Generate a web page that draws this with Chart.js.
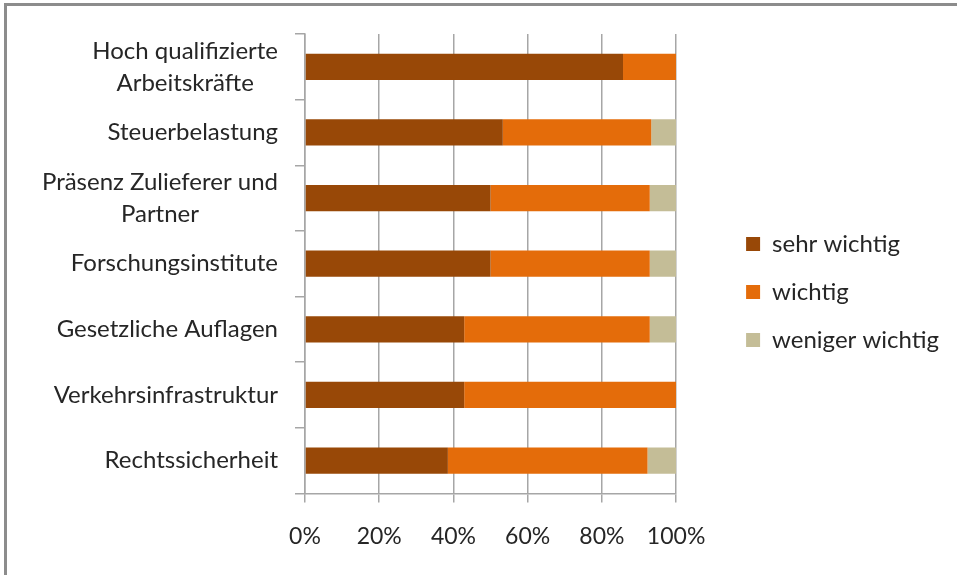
<!DOCTYPE html>
<html>
<head>
<meta charset="utf-8">
<script src="https://cdn.jsdelivr.net/npm/chart.js@4.4.1/dist/chart.umd.min.js"></script>
<style>
  html, body { margin: 0; padding: 0; background: #ffffff; }
  #wrap { position: relative; width: 957px; height: 575px; overflow: hidden; }
  #frame { position: absolute; left: 4px; top: 3px; right: -10px; bottom: -10px;
           border-left: 3px solid #8c8c8c; border-top: 3px solid #8c8c8c; pointer-events: none; }
  canvas { position: absolute; left: 0; top: 0; }
</style>
</head>
<body>
<div id="wrap">
  <canvas id="c" width="957" height="575"></canvas>
  <div id="frame"></div>
</div>
<script>
// ---- data ----
const categories = [
  ["Hoch qualifizierte", "Arbeitskräfte"],
  "Steuerbelastung",
  ["Präsenz Zulieferer und", "Partner"],
  "Forschungsinstitute",
  "Gesetzliche Auflagen",
  "Verkehrsinfrastruktur",
  "Rechtssicherheit"
];
const seriesNames = ["sehr wichtig", "wichtig", "weniger wichtig"];
const sehrWichtig    = [85.7, 53.3, 50.0, 50.0, 42.9, 42.9, 38.5];
const wichtig        = [14.3, 40.0, 42.9, 42.9, 50.0, 57.1, 53.8];
const wenigerWichtig = [0.0,  6.7,  7.1,  7.1,  7.1,  0.0,  7.7];
const xTickValues = [0, 20, 40, 60, 80, 100];

// ---- styles ----
const COLORS = ["#984807", "#E46C0A", "#C4BD97"];
const FONT = "Lato";
const LABEL_SIZE = 24;
const TICK_SIZE = 23;
const TEXT = "#262626";
const GRID = "#a6a6a6";

const yLabelPlugin = {
  id: 'yLabels',
  afterDraw(chart) {
    const ys = chart.scales.y;
    const ctx = chart.ctx;
    ctx.save();
    ctx.font = LABEL_SIZE + "px " + FONT;
    ctx.fillStyle = TEXT;
    ctx.textAlign = "center";
    ctx.textBaseline = "middle";
    const rightEdge = ys.right - 27;
    const lineH = 32;
    categories.forEach((lab, i) => {
      const lines = Array.isArray(lab) ? lab : [lab];
      const w = Math.max(...lines.map(l => ctx.measureText(l).width));
      const cx = rightEdge - w / 2;
      const cy = ys.getPixelForValue(i);
      lines.forEach((l, k) => ctx.fillText(l, cx, cy + (k - (lines.length - 1) / 2) * lineH));
    });
    ctx.restore();
  }
};

new Chart(document.getElementById("c"), {
  type: "bar",
  data: {
    labels: categories,
    datasets: [
      { label: seriesNames[0], data: sehrWichtig, backgroundColor: COLORS[0], borderWidth: 0 },
      { label: seriesNames[1], data: wichtig, backgroundColor: COLORS[1], borderWidth: 0 },
      { label: seriesNames[2], data: wenigerWichtig, backgroundColor: COLORS[2], borderWidth: 0 }
    ]
  },
  options: {
    indexAxis: "y",
    responsive: false,
    animation: false,
    devicePixelRatio: 1,
    datasets: { bar: { categoryPercentage: 0.8, barPercentage: 0.5 } },
    layout: { padding: { left: 0, top: 14, bottom: 5, right: 8 } },
    plugins: {
      tooltip: { enabled: false },
      legend: {
        position: "right",
        labels: {
          boxWidth: 14, boxHeight: 14, padding: 24,
          color: TEXT,
          font: { family: FONT, size: LABEL_SIZE }
        }
      }
    },
    scales: {
      x: {
        stacked: true,
        min: 0, max: 100,
        afterBuildTicks(s) { s.ticks = xTickValues.map(v => ({ value: v })); },
        grid: { color: GRID, lineWidth: 1.5, tickLength: 9, tickColor: GRID },
        border: { color: GRID, width: 1.5 },
        ticks: {
          padding: 20,
          color: TEXT,
          font: { family: FONT, size: TICK_SIZE },
          callback: v => v + "%"
        }
      },
      y: {
        stacked: true,
        grid: { drawOnChartArea: false, tickLength: 10, color: GRID, lineWidth: 1.5, offset: true },
        border: { color: GRID, width: 1.5 },
        ticks: { display: false },
        afterFit(s) { s.width = 305; }
      },
      gapR: {
        axis: "y", type: "linear", position: "right", display: false,
        afterFit(s) { s.width = 46; }
      },
      gapT: {
        axis: "x", type: "linear", position: "top", display: false,
        afterFit(s) { s.height = 20; }
      }
    }
  },
  plugins: [yLabelPlugin]
});
</script>
</body>
</html>
